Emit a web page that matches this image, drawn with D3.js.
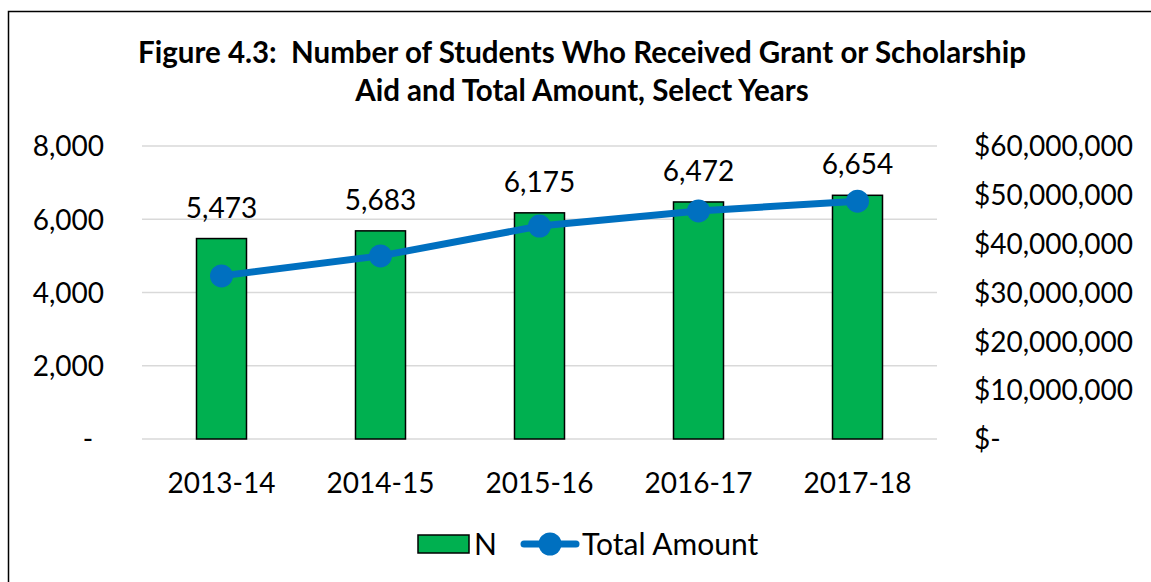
<!DOCTYPE html>
<html>
<head>
<meta charset="utf-8">
<script src="https://cdn.jsdelivr.net/npm/d3@7"></script>
<style>
  body { margin: 0; background: #fff; }
  text { font-family: Lato, "Open Sans", sans-serif; fill: #000; white-space: pre; }
</style>
</head>
<body>
<script>
var width = 1151, height = 582;

// chart data
var years = ["2013-14", "2014-15", "2015-16", "2016-17", "2017-18"];
var students = [5473, 5683, 6175, 6472, 6654];
var totalAmount = [33400000, 37500000, 43600000, 46700000, 48700000];
var leftTicks = [0, 2000, 4000, 6000, 8000];
var rightTicks = [0, 10000000, 20000000, 30000000, 40000000, 50000000, 60000000];

var plot = { left: 142, right: 937, top: 146, bottom: 439 };

var svg = d3.select("body")
    .append("svg")
    .attr("width", width)
    .attr("height", height);

// outer frame, clipped on right and bottom like the original
svg.append("rect")
    .attr("x", 8.5).attr("y", 11.5)
    .attr("width", width).attr("height", height)
    .attr("fill", "none").attr("stroke", "#000").attr("stroke-width", 1.5);

var x = d3.scaleBand().domain(years).range([plot.left, plot.right]).padding(0);
var yLeft = d3.scaleLinear().domain([0, 8000]).range([plot.bottom, plot.top]);
var yRight = d3.scaleLinear().domain([0, 60000000]).range([plot.bottom, plot.top]);

// title
var title = svg.append("text")
    .attr("text-anchor", "middle")
    .attr("font-size", 29.5)
    .attr("font-weight", "bold");
title.append("tspan").attr("x", 582).attr("y", 63).text("Figure 4.3:  Number of Students Who Received Grant or Scholarship");
title.append("tspan").attr("x", 582).attr("y", 101).text("Aid and Total Amount, Select Years");

// gridlines
svg.append("g").selectAll("line")
    .data(leftTicks)
  .enter().append("line")
    .attr("x1", plot.left).attr("x2", plot.right)
    .attr("y1", function(d) { return yLeft(d); })
    .attr("y2", function(d) { return yLeft(d); })
    .attr("stroke", "#d9d9d9").attr("stroke-width", 1.5);

// left axis
var leftAxis = svg.append("g")
    .attr("transform", "translate(104,0)")
    .call(d3.axisLeft(yLeft).tickValues(leftTicks).tickSize(0).tickPadding(0)
      .tickFormat(function(d) { return d === 0 ? "-" : d3.format(",")(d); }));
leftAxis.select(".domain").remove();
leftAxis.selectAll("text")
    .attr("font-size", 28).attr("font-family", null)
    .attr("dy", "0.35em");
leftAxis.selectAll(".tick").filter(function(d) { return d === 0; }).select("text")
    .attr("text-anchor", "middle").attr("x", -16);

// right axis
var rightAxis = svg.append("g")
    .attr("transform", "translate(974,0)")
    .call(d3.axisRight(yRight).tickValues(rightTicks).tickSize(0).tickPadding(0)
      .tickFormat(function(d) { return d === 0 ? "$-" : "$" + d3.format(",")(d); }));
rightAxis.select(".domain").remove();
rightAxis.selectAll("text")
    .attr("font-size", 28).attr("font-family", null)
    .attr("dy", "0.35em");

// x axis labels
var xAxis = svg.append("g")
    .attr("transform", "translate(0," + plot.bottom + ")")
    .call(d3.axisBottom(x).tickSize(0).tickPadding(0));
xAxis.select(".domain").remove();
xAxis.selectAll("text")
    .attr("font-size", 28).attr("font-family", null)
    .attr("y", 54).attr("dy", 0);

// bars
var barWidth = 50;
svg.append("g").selectAll("rect")
    .data(students)
  .enter().append("rect")
    .attr("x", function(d, i) { return x(years[i]) + x.bandwidth() / 2 - barWidth / 2; })
    .attr("y", function(d) { return yLeft(d); })
    .attr("width", barWidth)
    .attr("height", function(d) { return plot.bottom - yLeft(d); })
    .attr("fill", "#00b050")
    .attr("stroke", "#000").attr("stroke-width", 1.5);

// bar value labels
svg.append("g").selectAll("text")
    .data(students)
  .enter().append("text")
    .attr("x", function(d, i) { return x(years[i]) + x.bandwidth() / 2; })
    .attr("y", function(d) { return yLeft(d) - 21; })
    .attr("text-anchor", "middle")
    .attr("font-size", 28)
    .text(function(d) { return d3.format(",")(d); });

// total amount line
var line = d3.line()
    .x(function(d, i) { return x(years[i]) + x.bandwidth() / 2; })
    .y(function(d) { return yRight(d); });

svg.append("path")
    .datum(totalAmount)
    .attr("d", line)
    .attr("fill", "none")
    .attr("stroke", "#0070c0")
    .attr("stroke-width", 7)
    .attr("stroke-linecap", "round");

svg.append("g").selectAll("circle")
    .data(totalAmount)
  .enter().append("circle")
    .attr("cx", function(d, i) { return x(years[i]) + x.bandwidth() / 2; })
    .attr("cy", function(d) { return yRight(d); })
    .attr("r", 11.5)
    .attr("fill", "#0070c0");

// legend
var legend = svg.append("g");
legend.append("rect")
    .attr("x", 418).attr("y", 535).attr("width", 51).attr("height", 18)
    .attr("fill", "#00b050").attr("stroke", "#000").attr("stroke-width", 1.5);
legend.append("text")
    .attr("x", 474).attr("y", 555).attr("font-size", 30).text("N");
legend.append("line")
    .attr("x1", 524).attr("x2", 576).attr("y1", 544).attr("y2", 544)
    .attr("stroke", "#0070c0").attr("stroke-width", 7).attr("stroke-linecap", "round");
legend.append("circle")
    .attr("cx", 550).attr("cy", 544).attr("r", 11.5).attr("fill", "#0070c0");
legend.append("text")
    .attr("x", 582).attr("y", 555).attr("font-size", 30).text("Total Amount");
</script>
</body>
</html>
